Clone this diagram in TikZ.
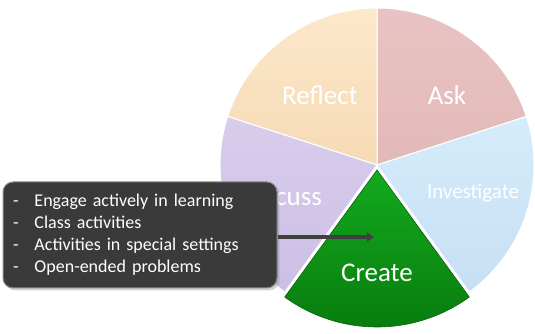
\documentclass[tikz,border=0pt]{standalone}
\usepackage{fontspec}
\setmainfont{Carlito}
\usetikzlibrary{arrows.meta,positioning,shadows}
\tikzset{>/.tip={Triangle[length=7pt,width=9pt]}}
\definecolor{reflectA}{HTML}{FCE8CB}
\definecolor{reflectB}{HTML}{F6DAB5}
\definecolor{askA}{HTML}{E9C3C3}
\definecolor{askB}{HTML}{E2B9B9}
\definecolor{investA}{HTML}{D5ECFB}
\definecolor{investB}{HTML}{C7DFF3}
\definecolor{discussA}{HTML}{D8CDEC}
\definecolor{discussB}{HTML}{CCBFE5}
\definecolor{createA}{HTML}{14AA1E}
\definecolor{createB}{HTML}{077A0D}
\definecolor{boxgray}{HTML}{3A3A3A}
\colorlet{arrowgray}{black!75}
\tikzset{
  slice/.style={draw=white,line width=1pt},
  piename/.style={text=white,font=\fontsize{27}{32}\selectfont},
  notebox/.style={fill=boxgray,draw=black!45,line width=1pt,rounded corners=10pt,
    text=white,text width=254pt,inner xsep=10pt,minimum height=106pt,
    align=left,font=\fontsize{18}{22}\selectfont,drop shadow={opacity=0.35}},
  arrowline/.style={arrowgray,line width=3.5pt}
}

\begin{document}
\begin{tikzpicture}[x=1pt,y=1pt]
        \useasboundingbox (0,0) rectangle (535,334);
        \coordinate (c) at (377,169);
        \coordinate (cc) at (377,164);
        \foreach \s/\e/\top/\bot in {18/90/askA/askB,90/162/reflectA/reflectB,
                                     162/234/discussA/discussB,-54/18/investA/investB}
          \shadedraw[slice,top color=\top,bottom color=\bot]
            (c) -- ++(\s:157) arc[start angle=\s,end angle=\e,radius=157] -- cycle;
        \shadedraw[slice,draw=createB!80!black,line width=0.6pt,top color=createA,bottom color=createB]
          (cc) -- ++(234:157) arc[start angle=234,end angle=306,radius=157] -- cycle;
        \node[piename] (ask) at (447,239) {Ask};
        \node[piename] (reflect) at (320,239) {Reflect};
        \node[piename,font=\fontsize{21}{25}\selectfont] (investigate) at (473,141) {Investigate};
        \node[piename] (discuss) at (282,138) {Discuss};
        \node[piename] (create) at (377,61) {Create};
        \node[notebox] (notes) at (140,99) {%
          \begin{tabular}{@{}l@{\hspace{16pt}}l@{}}
            - & Engage actively in learning\\
            - & Class activities\\
            - & Activities in special settings\\
            - & Open-ended problems
          \end{tabular}};
        \coordinate (tip) at (374,97);
        \draw[arrowline,->] (notes.east |- tip) -- (tip);
\end{tikzpicture}
\end{document}
